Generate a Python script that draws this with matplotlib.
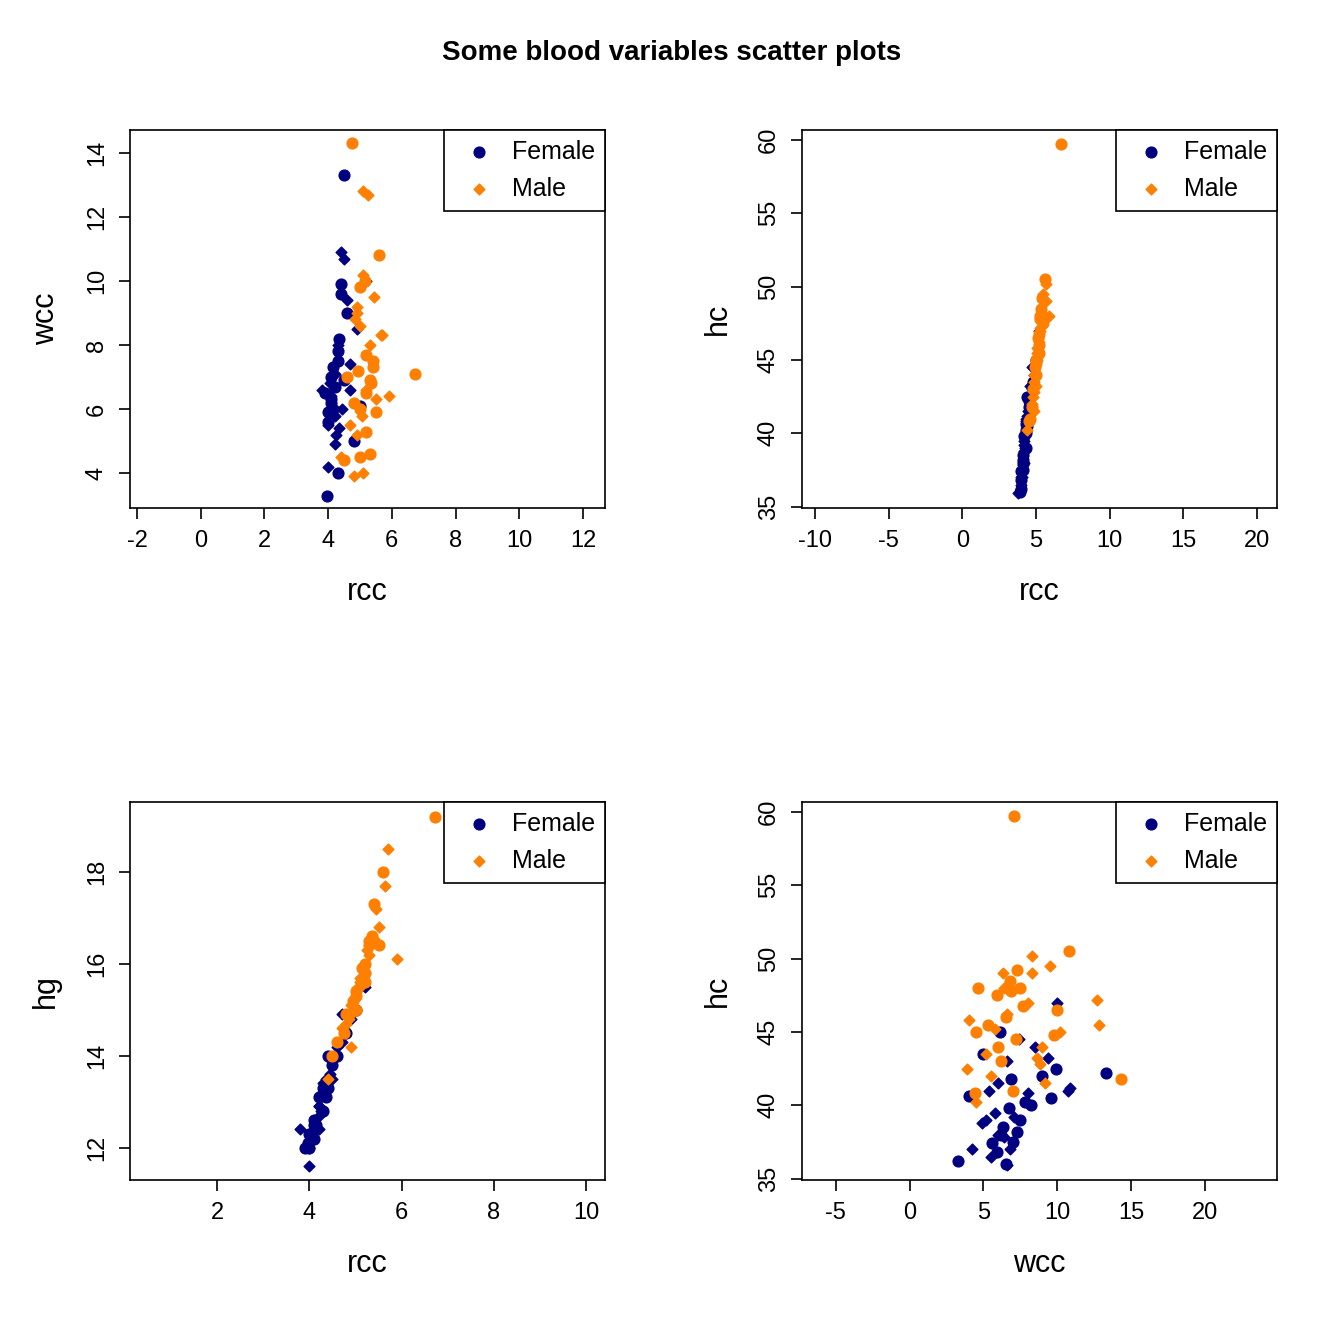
import matplotlib
matplotlib.use("Agg")
import matplotlib.pyplot as plt

plt.rcParams['font.family'] = ['Liberation Sans', 'DejaVu Sans']

# female athletes
rcc_f = [3.9, 4.0, 4.1, 4.2, 4.3, 4.0, 4.1, 4.2, 4.4, 4.5, 3.96, 4.05, 4.15, 4.25, 4.35, 4.45, 4.6, 4.7, 4.8, 4.9,
         5.0, 4.2, 4.3, 4.1, 4.0, 4.4, 4.5, 4.2, 4.3, 4.6, 4.1, 3.8, 4.0, 4.3, 4.5, 4.7, 4.4, 5.2, 4.2, 4.35]
hc_f = [36.0, 36.5, 37.5, 38.0, 39.0, 37.0, 38.5, 39.5, 40.5, 41.0, 36.2, 37.0, 38.2, 39.0, 40.0, 41.5, 42.0, 43.0, 43.5, 44.0,
        45.0, 38.8, 40.2, 37.8, 36.8, 41.2, 42.2, 39.2, 40.6, 43.2, 38.0, 35.9, 37.4, 40.8, 41.8, 44.5, 42.5, 47.0, 39.8, 41.0]
hg_f = [12.0, 11.6, 12.2, 12.4, 12.8, 12.0, 12.6, 12.9, 13.3, 13.5, 12.1, 12.3, 12.5, 12.8, 13.1, 13.6, 14.0, 14.3, 14.5, 14.8,
        15.0, 12.7, 13.2, 12.4, 12.0, 13.5, 13.9, 12.9, 13.3, 14.2, 12.5, 12.4, 12.3, 13.4, 13.8, 14.9, 14.0, 15.5, 13.1, 13.5]
wcc_f = [6.5, 5.5, 7.0, 6.0, 7.5, 4.2, 6.3, 5.8, 9.6, 10.7, 3.3, 6.8, 7.3, 5.2, 8.2, 6.0, 9.0, 6.6, 5.0, 8.5,
         6.1, 4.9, 7.8, 6.4, 5.9, 10.9, 13.3, 7.1, 4.0, 9.4, 6.2, 6.6, 5.6, 8.0, 6.9, 7.4, 9.9, 10.0, 6.7, 5.4]

# male athletes
rcc_m = [4.6, 4.7, 4.8, 4.9, 5.0, 5.1, 5.2, 5.3, 5.4, 5.5, 4.75, 4.85, 4.95, 5.05, 5.15, 5.25, 5.35, 5.45, 5.6, 5.7,
         5.0, 5.1, 5.2, 4.9, 5.3, 4.8, 5.0, 5.2, 5.4, 5.1, 6.72, 5.9, 5.5, 5.65, 4.5, 4.4, 5.3, 5.0, 5.2, 4.9]
hc_m = [41.0, 42.0, 43.0, 44.0, 45.0, 45.5, 46.0, 47.0, 48.0, 49.0, 41.8, 42.8, 44.5, 45.2, 46.5, 47.2, 48.5, 49.5, 50.5, 50.2,
        44.0, 45.8, 46.8, 43.5, 48.0, 42.5, 44.8, 46.2, 49.2, 45.0, 59.7, 48.0, 47.5, 49.0, 40.8, 40.2, 47.8, 43.2, 45.5, 41.5]
hg_m = [14.3, 14.6, 14.9, 15.1, 15.4, 15.6, 15.8, 16.2, 16.5, 16.8, 14.5, 14.8, 15.2, 15.5, 15.9, 16.3, 16.6, 17.2, 18.0, 18.5,
        15.0, 15.7, 16.0, 14.9, 16.4, 14.7, 15.3, 15.8, 17.3, 15.5, 19.2, 16.1, 16.4, 17.7, 14.0, 13.5, 16.5, 15.0, 15.6, 14.2]
wcc_m = [7.0, 5.5, 6.2, 9.0, 4.5, 12.8, 6.5, 8.0, 7.5, 6.3, 14.3, 8.8, 7.2, 5.8, 10.0, 12.7, 6.8, 9.5, 10.8, 8.3,
         6.0, 4.0, 7.7, 5.2, 4.6, 3.9, 9.8, 6.6, 7.3, 10.2, 7.1, 6.4, 5.9, 8.3, 4.4, 4.5, 6.9, 8.6, 5.3, 9.2]

female_col = "#000080"
male_col = "#FF7F00"

fig = plt.figure(figsize=(13.44, 13.44), dpi=100)
W = 1344.0


def make_ax(x0, y0, x1, y1):
    return fig.add_axes([x0 / W, 1 - y1 / W, (x1 - x0) / W, (y1 - y0) / W])


def draw(ax, xf, yf, xm, ym, xlabel, ylabel, xlim, ylim, xticks, yticks):
    for i in range(len(xf)):
        mk = 'o' if i % 2 == 0 else 'D'
        ax.scatter(xf[i], yf[i], color=female_col, marker=mk, s=60 if mk == 'o' else 30, zorder=3)
    for i in range(len(xm)):
        mk = 'o' if i % 2 == 0 else 'D'
        ax.scatter(xm[i], ym[i], color=male_col, marker=mk, s=60 if mk == 'o' else 30, zorder=3)
    ax.set_xlim(*xlim)
    ax.set_ylim(*ylim)
    ax.set_xticks(xticks)
    ax.set_yticks(yticks)
    ax.set_xticklabels([str(t) for t in xticks], fontsize=17)
    ax.set_yticklabels([str(t) for t in yticks], fontsize=17, rotation=90, va='center')
    ax.tick_params(length=8, width=1.2, pad=8)
    ax.set_xlabel(xlabel, fontsize=22, labelpad=18)
    ax.set_ylabel(ylabel, fontsize=22, labelpad=18)
    for s in ax.spines.values():
        s.set_linewidth(1.2)
    h1 = ax.scatter([], [], color=female_col, marker='o', s=60)
    h2 = ax.scatter([], [], color=male_col, marker='D', s=30)
    leg = ax.legend([h1, h2], ["Female", "Male"], loc='upper right', fontsize=18, fancybox=False,
                    framealpha=1, edgecolor='black', borderaxespad=0, handletextpad=0.3)
    leg.get_frame().set_linewidth(1.2)


ax1 = make_ax(130, 130, 605, 508)
draw(ax1, rcc_f, wcc_f, rcc_m, wcc_m, "rcc", "wcc", (-2.22, 12.69), (2.91, 14.72),
     [-2, 0, 2, 4, 6, 8, 10, 12], [4, 6, 8, 10, 12, 14])
ax2 = make_ax(802, 130, 1277, 508)
draw(ax2, rcc_f, hc_f, rcc_m, hc_m, "rcc", "hc", (-10.88, 21.36), (34.9, 60.68),
     [-10, -5, 0, 5, 10, 15, 20], [35, 40, 45, 50, 55, 60])
ax3 = make_ax(130, 802, 605, 1180)
draw(ax3, rcc_f, hg_f, rcc_m, hg_m, "rcc", "hg", (0.11, 10.41), (11.3, 19.52),
     [2, 4, 6, 8, 10], [12, 14, 16, 18])
ax4 = make_ax(802, 802, 1277, 1180)
draw(ax4, wcc_f, hc_f, wcc_m, hc_m, "wcc", "hc", (-7.3, 24.9), (34.9, 60.68),
     [-5, 0, 5, 10, 15, 20], [35, 40, 45, 50, 55, 60])

fig.text(0.5, 1 - 53 / W, "Some blood variables scatter plots", ha='center', va='center',
         fontsize=20, fontweight='bold')

fig.savefig("out.png", dpi=100)
